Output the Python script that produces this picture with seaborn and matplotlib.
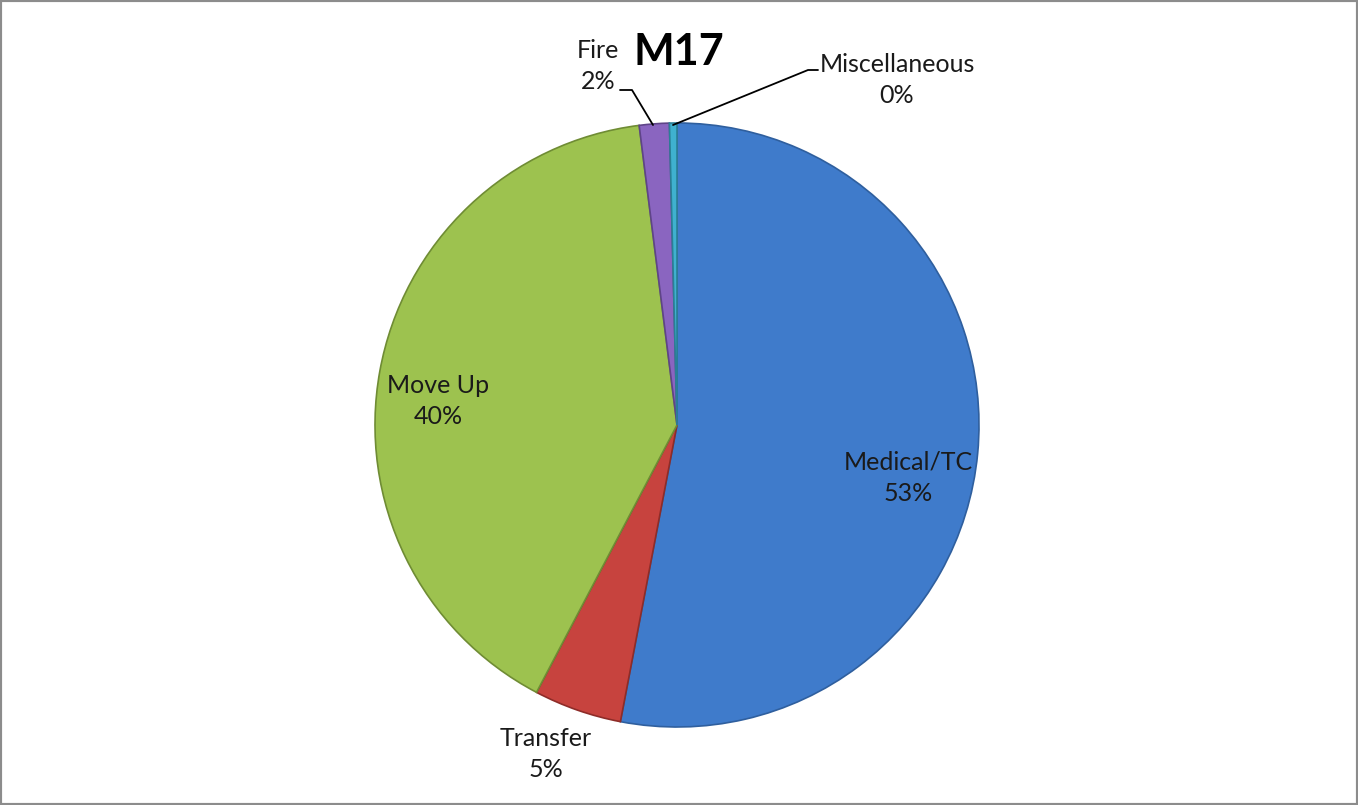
import matplotlib
matplotlib.use("Agg")
import matplotlib.pyplot as plt
import seaborn as sns
from matplotlib.patches import Rectangle

# Data (percent of runs)
categories = ["Medical/TC", "Transfer", "Move Up", "Fire", "Miscellaneous"]
shares = [53.0, 4.7, 40.3, 1.6, 0.4]
title = "M17"

slice_colors = ["#3f7bcb", "#c7433e", "#9dc24f", "#8a65c0", "#3fb1cf"]
edge_colors = ["#2f5f9e", "#8e2c28", "#6f8c34", "#5f4488", "#2a7f96"]

# label anchor points in pixel coords (x, y from top)
label_pos = {
    "Medical/TC": (908, 478),
    "Transfer": (546, 754),
    "Move Up": (438, 401),
    "Fire": (598, 66),
    "Miscellaneous": (897, 80),
}

sns.set_theme(style="white")
plt.rcParams["font.family"] = ["Lato", "DejaVu Sans"]

W, H = 1358, 805
fig = plt.figure(figsize=(W / 100, H / 100), dpi=100)
ax = fig.add_axes([0, 0, 1, 1])

cx, cy, r = 677, H - 425, 302
wedges, _ = ax.pie(shares, colors=slice_colors, startangle=90, counterclock=False,
                   center=(cx, cy), radius=r, frame=True,
                   wedgeprops=dict(linewidth=1.2))
for w, ec in zip(wedges, edge_colors):
    w.set_edgecolor(ec)

ax.set_xlim(0, W)
ax.set_ylim(0, H)
ax.set_aspect("equal")
ax.axis("off")

for name, val in zip(categories, shares):
    x, y = label_pos[name]
    ax.text(x, H - y, f"{name}\n{round(val):.0f}%", ha="center", va="center",
            fontsize=18, color="#1a1a1a", linespacing=1.45)

# leader lines for the small slices
ax.plot([620, 632, 653], [H - 90, H - 90, H - 125], color="black", lw=1.3)
ax.plot([673, 808, 818], [H - 125, H - 70, H - 70], color="black", lw=1.3)

ax.text(679, H - 52, title, ha="center", va="center", fontsize=31,
        fontweight="bold", color="black")

# chart frame
fig.patches.append(Rectangle((0, 0), 1, 1, transform=fig.transFigure,
                             fill=False, edgecolor="#8c8c8c", lw=3))

fig.savefig("out.png", dpi=100)
